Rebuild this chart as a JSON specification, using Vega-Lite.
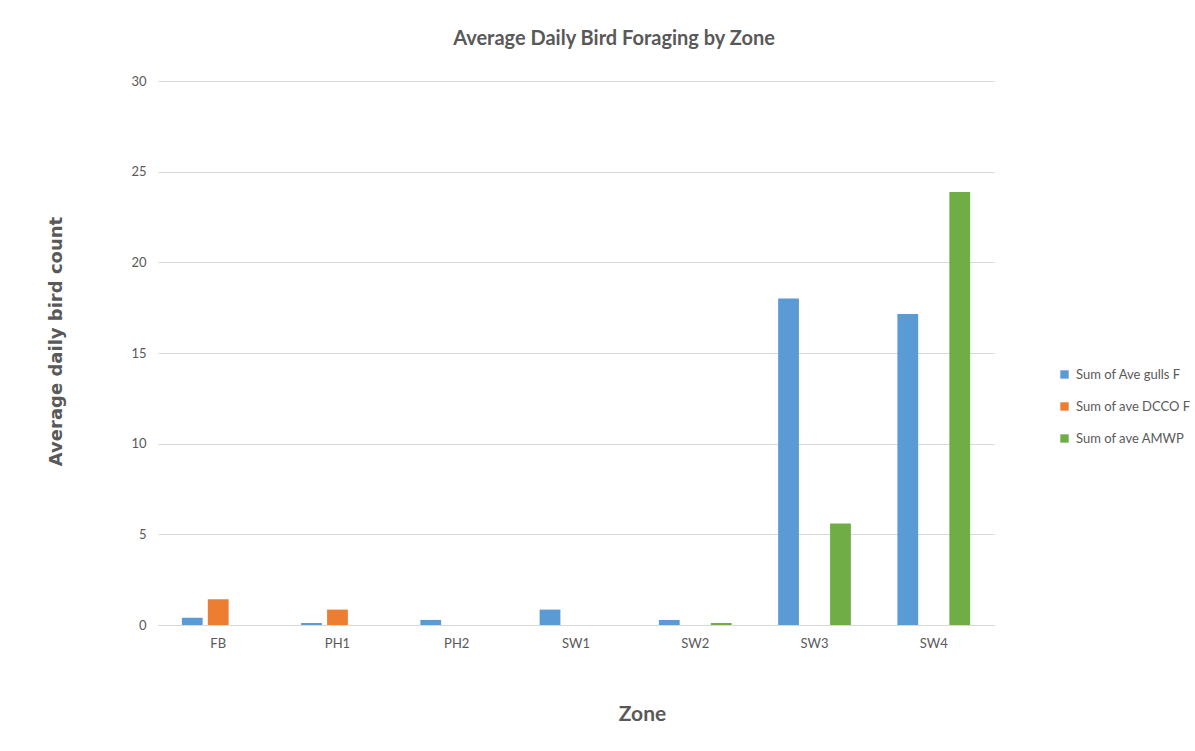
{
  "$schema": "https://vega.github.io/schema/vega-lite/v6.json",
  "width": 836,
  "height": 544,
  "autosize": "none",
  "padding": {"left": 158, "top": 81, "right": 201, "bottom": 126},
  "background": "white",
  "title": {
    "text": "Average Daily Bird Foraging by Zone",
    "font": "Lato",
    "fontSize": 20,
    "fontWeight": "bold",
    "color": "#595959",
    "anchor": "middle",
    "dx": 38,
    "offset": 26
  },
  "data": {
    "values": [
      {"zone": "FB", "series": "Sum of Ave gulls F", "value": 0.40},
      {"zone": "FB", "series": "Sum of ave DCCO F", "value": 1.42},
      {"zone": "FB", "series": "Sum of ave AMWP", "value": 0},
      {"zone": "PH1", "series": "Sum of Ave gulls F", "value": 0.11},
      {"zone": "PH1", "series": "Sum of ave DCCO F", "value": 0.85},
      {"zone": "PH1", "series": "Sum of ave AMWP", "value": 0},
      {"zone": "PH2", "series": "Sum of Ave gulls F", "value": 0.28},
      {"zone": "PH2", "series": "Sum of ave DCCO F", "value": 0},
      {"zone": "PH2", "series": "Sum of ave AMWP", "value": 0},
      {"zone": "SW1", "series": "Sum of Ave gulls F", "value": 0.85},
      {"zone": "SW1", "series": "Sum of ave DCCO F", "value": 0},
      {"zone": "SW1", "series": "Sum of ave AMWP", "value": 0},
      {"zone": "SW2", "series": "Sum of Ave gulls F", "value": 0.28},
      {"zone": "SW2", "series": "Sum of ave DCCO F", "value": 0},
      {"zone": "SW2", "series": "Sum of ave AMWP", "value": 0.11},
      {"zone": "SW3", "series": "Sum of Ave gulls F", "value": 18.0},
      {"zone": "SW3", "series": "Sum of ave DCCO F", "value": 0},
      {"zone": "SW3", "series": "Sum of ave AMWP", "value": 5.6},
      {"zone": "SW4", "series": "Sum of Ave gulls F", "value": 17.15},
      {"zone": "SW4", "series": "Sum of ave DCCO F", "value": 0},
      {"zone": "SW4", "series": "Sum of ave AMWP", "value": 23.88}
    ]
  },
  "mark": {"type": "bar"},
  "encoding": {
    "x": {
      "field": "zone",
      "type": "nominal",
      "sort": ["FB", "PH1", "PH2", "SW1", "SW2", "SW3", "SW4"],
      "scale": {"paddingInner": 0.39, "paddingOuter": 0.2},
      "axis": {
        "title": "Zone",
        "titleFont": "Lato",
        "titleFontSize": 21,
        "titleFontWeight": "bold",
        "titleColor": "#595959",
        "titlePadding": 53,
        "titleX": 484,
        "labelAngle": 0,
        "labelFont": "Lato",
        "labelFontSize": 13,
        "labelColor": "#595959",
        "labelPadding": 12,
        "ticks": false,
        "domainColor": "#d9d9d9",
        "domainWidth": 1
      }
    },
    "xOffset": {
      "field": "series",
      "type": "nominal",
      "sort": ["Sum of Ave gulls F", "Sum of ave DCCO F", "Sum of ave AMWP"],
      "scale": {"paddingInner": 0.2}
    },
    "y": {
      "field": "value",
      "type": "quantitative",
      "scale": {"domain": [0, 30]},
      "axis": {
        "title": "Average daily bird count",
        "titleFont": "DejaVu Sans",
        "titleFontSize": 18,
        "titleFontWeight": "bold",
        "titleColor": "#595959",
        "titlePadding": 65,
        "titleY": 260,
        "values": [0, 5, 10, 15, 20, 25, 30],
        "labelFont": "Lato",
        "labelFontSize": 13,
        "labelColor": "#595959",
        "labelPadding": 12,
        "ticks": false,
        "domain": false,
        "gridColor": "#d9d9d9",
        "gridWidth": 1
      }
    },
    "color": {
      "field": "series",
      "type": "nominal",
      "sort": ["Sum of Ave gulls F", "Sum of ave DCCO F", "Sum of ave AMWP"],
      "scale": {
        "domain": ["Sum of Ave gulls F", "Sum of ave DCCO F", "Sum of ave AMWP"],
        "range": ["#5B9BD5", "#ED7D31", "#70AD47"]
      },
      "legend": {
        "title": null,
        "orient": "none",
        "legendX": 900,
        "legendY": 287,
        "symbolType": "square",
        "symbolSize": 70,
        "symbolStrokeWidth": 0,
        "labelFont": "Lato",
        "labelFontSize": 13,
        "labelColor": "#595959",
        "rowPadding": 18,
        "labelOffset": 5
      }
    }
  },
  "config": {
    "view": {"stroke": null}
  }
}
